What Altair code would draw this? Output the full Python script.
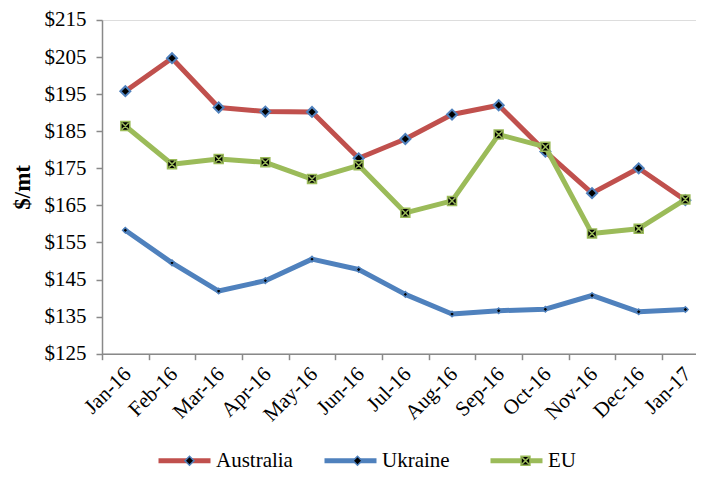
import altair as alt
import pandas as pd

months = ["Jan-16", "Feb-16", "Mar-16", "Apr-16", "May-16", "Jun-16", "Jul-16",
          "Aug-16", "Sep-16", "Oct-16", "Nov-16", "Dec-16", "Jan-17"]
australia = [195.8, 204.7, 191.4, 190.3, 190.2, 177.7, 182.9, 189.5, 192.0, 179.5, 168.3, 175.0, 166.4]
ukraine = [158.3, 149.5, 141.9, 144.7, 150.5, 147.7, 141.0, 135.7, 136.6, 137.0, 140.7, 136.3, 136.9]
eu = [186.4, 176.1, 177.5, 176.6, 172.1, 175.8, 163.0, 166.2, 184.1, 180.8, 157.4, 158.7, 166.6]

series_names = ["Australia", "Ukraine", "EU"]
marker_keys = ["_" + s for s in series_names]
line_colors = ["#C0504D", "#4F81BD", "#9BBB59"]
marker_strokes = ["#4F81BD", "#4F81BD", "#9BBB59"]
y_ticks = list(range(125, 216, 10))

rows = []
for name, key, vals in zip(series_names, marker_keys, [australia, ukraine, eu]):
    for m, v in zip(months, vals):
        rows.append({"month": m, "price": v, "series": name, "marker": key})
df = pd.DataFrame(rows)

FONT = "Liberation Serif"
AXIS_GRAY = "#898989"
EU_PATH = "M-1,-1H1V1H-1Z M-0.75,-0.75L0.75,0.75 M0.75,-0.75L-0.75,0.75"
marker_shapes = ["diamond", "diamond", EU_PATH]
marker_sizes = [100, 30, 81]
marker_sw = [2, 1.5, 1.5]

LEG_X = 54
LEG_Y = 412
COL_PAD = 21
legend_a = alt.Legend(
    title=None, orient="none", legendX=LEG_X, legendY=LEG_Y,
    direction="horizontal", columns=3, gridAlign="all", symbolType="M-1,0H1",
    symbolSize=2704, symbolStrokeWidth=5, labelFont=FONT, labelFontSize=21,
    labelColor="black", labelOffset=3, columnPadding=COL_PAD, padding=0,
    rowPadding=0, labelLimit=0,
)
# marker overlay legend: same column pitch as legend_a, no label text
legend_b = alt.Legend(
    title=None, orient="none", legendX=LEG_X + 23, legendY=LEG_Y + 18,
    direction="horizontal", columns=3, gridAlign="all", symbolSize=80,
    symbolStrokeWidth=1.5, symbolFillColor="black", labelFont=FONT,
    labelFontSize=21, labelExpr="''", labelOffset=0,
    columnPadding=57 + 3 + 77 + COL_PAD - 11, padding=0, rowPadding=0, labelLimit=0,
)

x_enc = alt.X(
    "month:N", sort=months,
    scale=alt.Scale(domain=months, range=[0, 606.7], paddingInner=0, paddingOuter=0),
    axis=alt.Axis(
        title=None, labelAngle=-45, labelAlign="right", labelBaseline="middle",
        labelFont=FONT, labelFontSize=21, labelColor="black", labelPadding=11,
        labelOffset=2, tickBand="extent", tickSize=6, tickColor=AXIS_GRAY,
        domainColor=AXIS_GRAY, domainWidth=1.5, tickWidth=1.5, labelOverlap=False,
        grid=False,
    ),
)
y_enc = alt.Y(
    "price:Q",
    scale=alt.Scale(domain=[125, 215], nice=False, zero=False),
    axis=alt.Axis(
        values=y_ticks, labelExpr="'$' + datum.value", title="$/mt",
        titleFont=FONT, titleFontSize=23, titleFontWeight="bold", titleColor="black",
        titlePadding=10, labelFont=FONT, labelFontSize=21, labelColor="black",
        labelPadding=10, tickSize=6, tickColor=AXIS_GRAY, domainColor=AXIS_GRAY,
        domainWidth=1.5, tickWidth=1.5, grid=False,
    ),
)

color_enc = alt.Color("series:N", scale=alt.Scale(domain=series_names, range=line_colors), legend=legend_a)
shape_enc = alt.Shape("marker:N", scale=alt.Scale(domain=marker_keys, range=marker_shapes), legend=legend_b)
stroke_enc = alt.Stroke("marker:N", scale=alt.Scale(domain=marker_keys, range=marker_strokes), legend=legend_b)

base = alt.Chart(df)
layers = []
for i, name in enumerate(series_names):
    line = base.transform_filter(alt.datum.series == name).mark_line(
        strokeWidth=5, strokeCap="round", strokeJoin="round"
    ).encode(x=x_enc, y=y_enc, color=color_enc)
    pts = base.transform_filter(alt.datum.series == name).mark_point(
        filled=True, fill="black", opacity=1, size=marker_sizes[i], strokeWidth=marker_sw[i]
    ).encode(x=x_enc, y=y_enc, shape=shape_enc, stroke=stroke_enc)
    layers += [line, pts]

chart = alt.layer(*layers).properties(
    width=594, height=333.7,
    autosize=alt.AutoSizeParams(type="none"),
    padding={"left": 94, "top": 12, "right": 0, "bottom": 118},
).configure_view(stroke=None).configure(background="white")

chart.save("out.html", embed_options={"renderer": "svg", "actions": False})
